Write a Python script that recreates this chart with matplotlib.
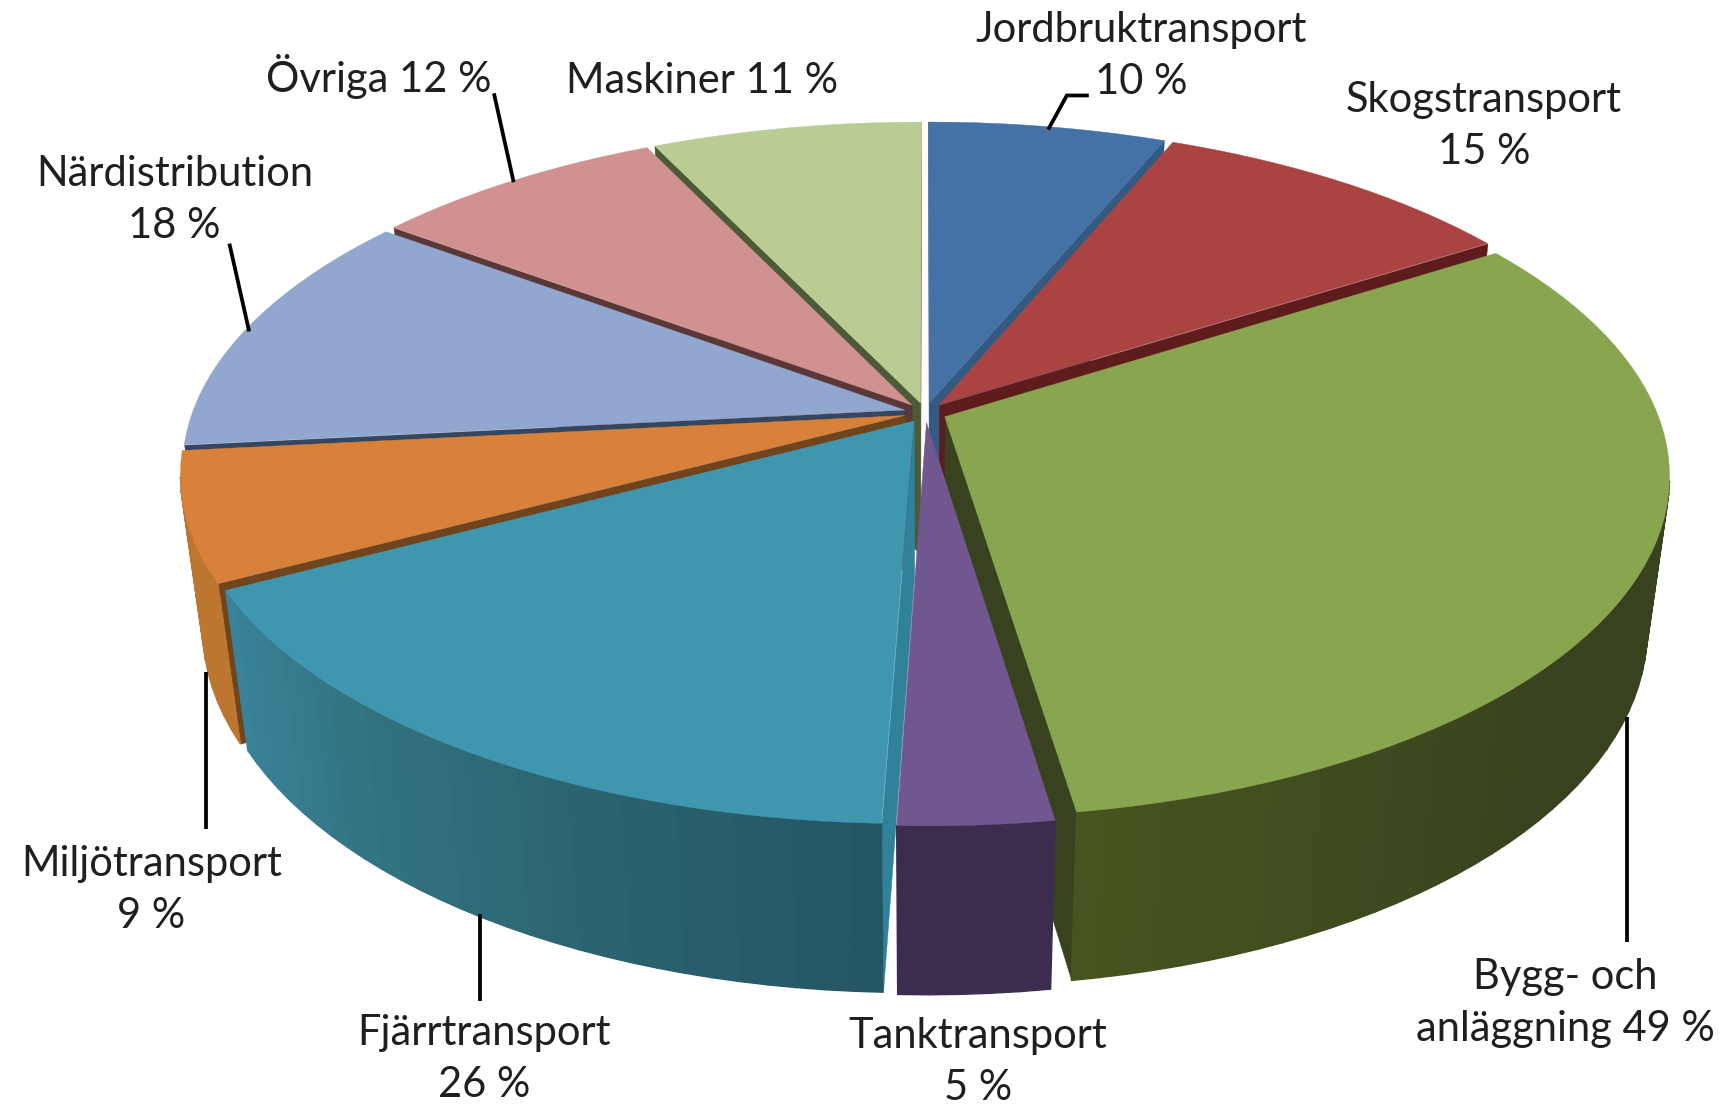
import numpy as np
import matplotlib
matplotlib.use("Agg")
import matplotlib.pyplot as plt
from matplotlib.collections import PolyCollection
from matplotlib.colors import to_rgb

categories = ["Jordbruktransport", "Skogstransport", "Bygg- och anläggning", "Tanktransport",
              "Fjärrtransport", "Miljötransport", "Närdistribution", "Övriga", "Maskiner"]
values = [9.6, 14.9, 48.4, 4.5, 25.6, 9.3, 18.0, 11.9, 10.9]
top_colors = ["#4471A6", "#A94443", "#8AA550", "#71578F", "#3F97AF", "#D8813B", "#92A7CF", "#D09190", "#B8CC94"]
cut_colors = ["#345A82", "#5E1C1C", "#38421F", "#3C2D4E", "#2F8299", "#70441C", "#34475F", "#5A3838", "#4C5A38"]
wall_start = ["#345A82", "#7A2E2D", "#38421F", "#3C2D4E", "#245562", "#BC762F", "#BC762F", "#966868", "#839470"]
wall_mid = ["#345A82", "#7A2E2D", "#38421F", "#3C2D4E", "#32727F", "#BC762F", "#BC762F", "#966868", "#839470"]
wall_end = ["#345A82", "#7A2E2D", "#46541F", "#3C2D4E", "#3A8299", "#BC762F", "#BC762F", "#966868", "#839470"]

label_texts = ["Jordbruktransport\n10 %", "Skogstransport\n15 %", "Bygg- och\nanläggning 49 %",
               "Tanktransport\n5 %", "Fjärrtransport\n26 %", "Miljötransport\n9 %",
               "Närdistribution\n18 %", "Övriga 12 %", "Maskiner 11 %"]
label_x = [1040, 1352, 1426, 891, 441, 138, 159, 345, 640]
label_y = [51, 115, 914, 968, 965, 811, 182, 70, 74]
leaders = [[(955, 118), (972, 87), (992, 87)], [(1482, 653), (1482, 858)], [(437, 833), (437, 912)],
           [(188, 612), (188, 755)], [(227, 302), (209, 222)], [(468, 166), (450, 85)]]

CX, CY, A, B, H, K, M, EXPLODE = 843, 376, 649, 302, 143, 0.169, 0.03, 0.03
CAM_Y = -1 / K


def project(x, y, z):
    d = 1 + K * y - M * z
    return CX + A * x / d, CY - (B * y + H * z) / d


def faces_camera(nx, ny, x, y):
    return nx * (0 - x) + ny * (CAM_Y - y) > 0


fig = plt.figure(figsize=(17.21, 11.04), dpi=100)
ax = fig.add_axes([0, 0, 1, 1])
ax.set_xlim(0, 1568)
ax.set_ylim(1006, 0)
ax.axis("off")

edges = np.concatenate([[0], np.cumsum(values)]) / np.sum(values) * 2 * np.pi
order = sorted(range(len(values)), key=lambda i: -np.cos((edges[i] + edges[i + 1]) / 2))

for z, i in enumerate(order):
    t1, t2 = edges[i], edges[i + 1]
    mid = (t1 + t2) / 2
    ox, oy = EXPLODE * np.sin(mid), EXPLODE * np.cos(mid)
    th = np.linspace(t1, t2, max(int((t2 - t1) * 30), 6))
    rx, ry = ox + np.sin(th), oy + np.cos(th)

    faces = []
    for t, s in ((t1, -1), (t2, 1)):
        nx, ny = s * np.cos(t), -s * np.sin(t)
        if faces_camera(nx, ny, ox, oy):
            ex, ey = ox + np.sin(t), oy + np.cos(t)
            faces.append([project(ox, oy, 0), project(ex, ey, 0), project(ex, ey, -1), project(ox, oy, -1)])
    if faces:
        ax.add_collection(PolyCollection(faces, facecolors=cut_colors[i], edgecolors=cut_colors[i],
                                         linewidths=0.3, zorder=z * 3 + 1))

    quads, cols = [], []
    stops = np.array([to_rgb(wall_start[i]), to_rgb(wall_mid[i]), to_rgb(wall_end[i])])
    for j in range(len(th) - 1):
        tm = (th[j] + th[j + 1]) / 2
        if not faces_camera(np.sin(tm), np.cos(tm), ox + np.sin(tm), oy + np.cos(tm)):
            continue
        quads.append([project(rx[j], ry[j], 0), project(rx[j + 1], ry[j + 1], 0),
                      project(rx[j + 1], ry[j + 1], -1), project(rx[j], ry[j], -1)])
        f = j / max(len(th) - 2, 1)
        cols.append(tuple(np.interp(f, [0, 0.65, 1], stops[:, c]) for c in range(3)))
    if quads:
        ax.add_collection(PolyCollection(quads, facecolors=cols, edgecolors=cols,
                                         linewidths=1.0, zorder=z * 3 + 2))

    px, py = project(rx, ry, 0)
    ax0, ay0 = project(ox, oy, 0)
    ax.fill(np.r_[ax0, px], np.r_[ay0, py], facecolor=top_colors[i], edgecolor=top_colors[i],
            linewidth=0.3, zorder=z * 3 + 3)

for pts in leaders:
    xs, ys = zip(*pts)
    ax.plot(xs, ys, color="black", lw=2.7, solid_joinstyle="miter", solid_capstyle="butt", zorder=100)

for txt, x, y in zip(label_texts, label_x, label_y):
    ax.text(x, y, txt, ha="center", va="center", fontsize=30, family="Lato", color="#1f1f1f",
            linespacing=1.45, zorder=101)

fig.savefig("out.png", dpi=100, facecolor="white")
